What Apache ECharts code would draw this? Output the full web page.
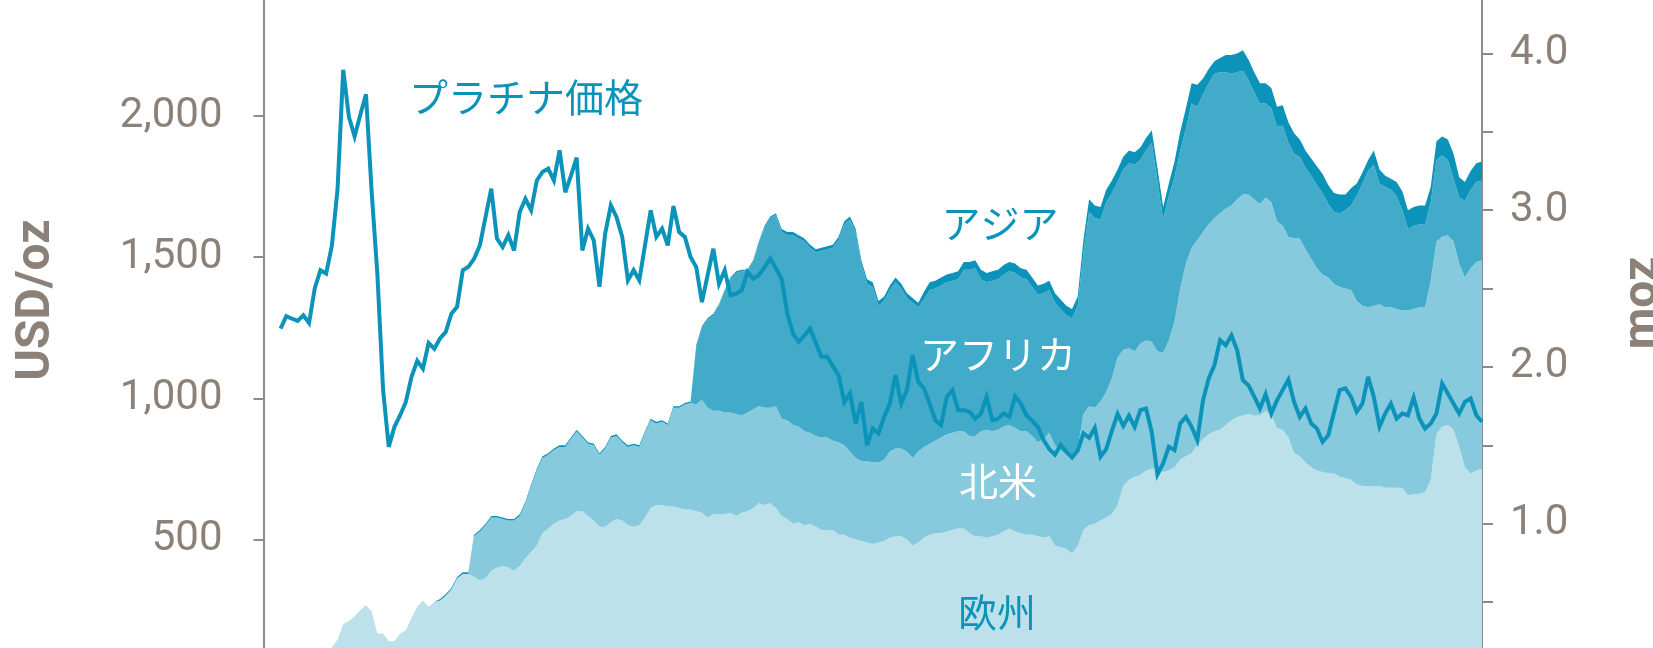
<!DOCTYPE html>
<html>
<head>
<meta charset="UTF-8">
<title>プラチナ価格とETF保有量</title>
<script src="https://cdn.jsdelivr.net/npm/echarts@6/dist/echarts.min.js"></script>
<style>
  html, body { margin: 0; padding: 0; background: #fff; }
  #main { width: 1653px; height: 648px; }
</style>
</head>
<body>
<div id="main"></div>
<script type="text/javascript">
// monthly points, Dec 2006 .. Oct 2024
var months = [];
for (var k = 0; k < 215; k++) {
    var y = 2006 + Math.floor((11 + k) / 12);
    var m = (11 + k) % 12 + 1;
    months.push(y + '-' + (m < 10 ? '0' + m : m));
}

// platinum price, USD/oz
var price = [
    null, null, null, 1247, 1291, 1282, 1274, 1294, 1267, 1389,
    1454, 1442, 1540, 1740, 2164, 1997, 1928, 2005, 2077, 1730,
    1440, 1030, 828, 899, 940, 987, 1076, 1133, 1105, 1196,
    1176, 1212, 1235, 1300, 1324, 1454, 1466, 1495, 1542, 1643,
    1743, 1566, 1536, 1578, 1524, 1660, 1707, 1666, 1772, 1802,
    1814, 1772, 1879, 1730, 1789, 1853, 1524, 1601, 1560, 1395,
    1583, 1684, 1642, 1572, 1418, 1454, 1418, 1542, 1666, 1572,
    1601, 1542, 1681, 1589, 1572, 1501, 1465, 1341, 1436, 1530,
    1406, 1454, 1365, 1371, 1383, 1448, 1424, 1436, 1465, 1495,
    1460, 1424, 1300, 1229, 1200, 1223, 1247, 1196, 1147, 1147,
    1114, 1082, 987, 1017, 911, 987, 834, 893, 875, 934,
    981, 1082, 981, 1029, 1153, 1058, 1035, 981, 922, 905,
    1005, 1029, 958, 958, 952, 928, 946, 1005, 922, 928,
    946, 934, 1007, 981, 940, 920, 899, 852, 820, 800,
    835, 811, 790, 815, 876, 860, 895, 793, 820, 885,
    945, 902, 938, 899, 958, 964, 880, 730, 769, 828,
    816, 911, 934, 899, 852, 993, 1070, 1117, 1206, 1188,
    1223, 1170, 1064, 1046, 1006, 964, 1015, 946, 993, 1030,
    1066, 987, 934, 964, 911, 893, 846, 869, 950, 1029,
    1035, 1005, 952, 981, 1076, 1005, 899, 946, 981, 928,
    946, 940, 1003, 928, 893, 911, 946, 1052, 1017, 981,
    946, 987, 999, 940, 917
];

// ETF holdings by region, moz
var europe = [
    0, 0, 0, 0, 0, 0, 0, 0, 0, 0,
    0, 0, 0.21, 0.26, 0.36, 0.38, 0.41, 0.45, 0.48, 0.44,
    0.30, 0.30, 0.25, 0.25, 0.30, 0.32, 0.40, 0.47, 0.51, 0.47,
    0.50, 0.51, 0.54, 0.58, 0.65, 0.68, 0.68, 0.66, 0.64, 0.65,
    0.70, 0.72, 0.73, 0.72, 0.70, 0.73, 0.78, 0.82, 0.86, 0.94,
    0.97, 1.00, 1.02, 1.03, 1.05, 1.08, 1.08, 1.05, 1.02, 0.98,
    0.98, 1.01, 1.03, 1.02, 0.99, 0.98, 0.99, 1.04, 1.10, 1.12,
    1.12, 1.11, 1.11, 1.10, 1.09, 1.09, 1.08, 1.07, 1.04, 1.06,
    1.06, 1.06, 1.07, 1.05, 1.07, 1.08, 1.10, 1.13, 1.12, 1.13,
    1.10, 1.05, 1.03, 1.00, 1.01, 0.99, 1.00, 0.98, 0.96, 0.96,
    0.96, 0.93, 0.93, 0.91, 0.90, 0.89, 0.88, 0.87, 0.88, 0.89,
    0.91, 0.92, 0.92, 0.90, 0.86, 0.88, 0.91, 0.93, 0.94, 0.94,
    0.95, 0.96, 0.97, 0.97, 0.94, 0.92, 0.92, 0.91, 0.92, 0.93,
    0.95, 0.97, 0.95, 0.94, 0.93, 0.93, 0.92, 0.91, 0.92, 0.86,
    0.85, 0.84, 0.81, 0.86, 0.96, 0.99, 1.00, 1.02, 1.04, 1.06,
    1.12, 1.24, 1.28, 1.30, 1.31, 1.34, 1.35, 1.35, 1.33, 1.34,
    1.36, 1.41, 1.43, 1.45, 1.50, 1.54, 1.57, 1.59, 1.60, 1.63,
    1.66, 1.68, 1.69, 1.70, 1.69, 1.69, 1.72, 1.69, 1.61, 1.60,
    1.55, 1.45, 1.43, 1.39, 1.36, 1.34, 1.33, 1.32, 1.32, 1.30,
    1.29, 1.28, 1.25, 1.24, 1.24, 1.24, 1.24, 1.23, 1.23, 1.23,
    1.23, 1.18, 1.19, 1.19, 1.20, 1.28, 1.57, 1.62, 1.63, 1.60,
    1.49, 1.36, 1.32, 1.34, 1.35
];

var northAmerica = [
    0, 0, 0, 0, 0, 0, 0, 0, 0, 0,
    0, 0, 0, 0, 0, 0, 0, 0, 0, 0,
    0, 0, 0, 0, 0, 0, 0, 0, 0, 0,
    0, 0, 0, 0, 0, 0, 0, 0.26, 0.31, 0.34,
    0.34, 0.32, 0.30, 0.30, 0.32, 0.32, 0.35, 0.42, 0.48, 0.48,
    0.47, 0.47, 0.47, 0.46, 0.49, 0.51, 0.47, 0.46, 0.48, 0.46,
    0.50, 0.54, 0.53, 0.50, 0.50, 0.52, 0.50, 0.54, 0.56, 0.52,
    0.53, 0.52, 0.63, 0.64, 0.67, 0.68, 0.68, 0.72, 0.70, 0.66,
    0.66, 0.65, 0.64, 0.65, 0.62, 0.63, 0.63, 0.62, 0.62, 0.61,
    0.65, 0.62, 0.63, 0.63, 0.61, 0.60, 0.58, 0.58, 0.59, 0.59,
    0.57, 0.59, 0.57, 0.55, 0.52, 0.51, 0.52, 0.52, 0.51, 0.52,
    0.55, 0.56, 0.56, 0.56, 0.56, 0.58, 0.58, 0.58, 0.59, 0.61,
    0.62, 0.62, 0.62, 0.62, 0.62, 0.64, 0.67, 0.69, 0.67, 0.67,
    0.67, 0.66, 0.66, 0.65, 0.66, 0.63, 0.60, 0.63, 0.66, 0.64,
    0.62, 0.60, 0.62, 0.62, 0.74, 0.76, 0.74, 0.76, 0.80, 0.87,
    0.94, 0.87, 0.84, 0.80, 0.84, 0.83, 0.81, 0.75, 0.76, 0.83,
    0.93, 1.09, 1.23, 1.31, 1.31, 1.32, 1.34, 1.36, 1.38, 1.38,
    1.37, 1.39, 1.41, 1.40, 1.38, 1.35, 1.36, 1.36, 1.32, 1.30,
    1.28, 1.37, 1.39, 1.36, 1.33, 1.29, 1.26, 1.25, 1.21, 1.21,
    1.21, 1.21, 1.17, 1.15, 1.14, 1.15, 1.16, 1.15, 1.15, 1.14,
    1.13, 1.18, 1.18, 1.19, 1.18, 1.27, 1.23, 1.21, 1.21, 1.20,
    1.17, 1.21, 1.31, 1.33, 1.33
];

var africa = [
    0, 0, 0, 0, 0, 0, 0, 0, 0, 0,
    0, 0, 0, 0, 0, 0, 0, 0, 0, 0,
    0, 0, 0, 0, 0, 0, 0, 0, 0, 0,
    0, 0, 0, 0, 0, 0, 0, 0, 0, 0,
    0, 0, 0, 0, 0, 0, 0, 0, 0, 0,
    0, 0, 0, 0, 0, 0, 0, 0, 0, 0,
    0, 0, 0, 0, 0, 0, 0, 0, 0, 0,
    0, 0, 0, 0, 0, 0, 0.37, 0.46, 0.56, 0.61,
    0.67, 0.77, 0.85, 0.90, 0.92, 0.90, 0.94, 1.04, 1.15, 1.21,
    1.22, 1.19, 1.18, 1.21, 1.20, 1.21, 1.18, 1.17, 1.19, 1.20,
    1.23, 1.29, 1.41, 1.48, 1.44, 1.26, 1.13, 1.12, 1.00, 1.01,
    1.03, 1.06, 1.02, 0.98, 0.99, 0.92, 0.94, 0.98, 0.97, 0.97,
    0.97, 0.97, 0.97, 1.03, 1.06, 1.07, 0.97, 0.94, 0.96, 0.96,
    0.97, 0.98, 0.99, 0.98, 0.97, 0.95, 0.94, 0.93, 0.91, 0.91,
    0.90, 0.89, 0.88, 0.91, 1.03, 1.24, 1.21, 1.16, 1.21, 1.18,
    1.12, 1.15, 1.18, 1.19, 1.17, 1.21, 1.27, 1.09, 0.85, 0.92,
    0.92, 0.88, 0.86, 0.92, 0.85, 0.88, 0.90, 0.92, 0.90, 0.87,
    0.84, 0.81, 0.79, 0.73, 0.68, 0.64, 0.60, 0.60, 0.60, 0.64,
    0.60, 0.54, 0.52, 0.52, 0.53, 0.53, 0.52, 0.47, 0.46, 0.47,
    0.50, 0.54, 0.67, 0.78, 0.87, 0.90, 0.77, 0.77, 0.75, 0.72,
    0.64, 0.52, 0.53, 0.53, 0.53, 0.50, 0.52, 0.52, 0.48, 0.40,
    0.42, 0.49, 0.50, 0.51, 0.51
];

var asia = [
    0, 0, 0, 0, 0, 0, 0, 0, 0, 0,
    0, 0, 0, 0, 0, 0, 0, 0, 0, 0,
    0, 0, 0, 0, 0, 0, 0, 0, 0, 0,
    0, 0.01, 0.01, 0.01, 0.01, 0.01, 0.01, 0.01, 0.01, 0.01,
    0.01, 0.01, 0.01, 0.01, 0.01, 0.01, 0.01, 0.01, 0.01, 0.01,
    0.01, 0.01, 0.01, 0.01, 0.01, 0.01, 0.01, 0.01, 0.01, 0.01,
    0.01, 0.01, 0.01, 0.01, 0.01, 0.01, 0.01, 0.01, 0.01, 0.01,
    0.01, 0.01, 0.01, 0.01, 0.01, 0.01, 0.01, 0.01, 0.01, 0.01,
    0.01, 0.01, 0.01, 0.01, 0.01, 0.01, 0.01, 0.01, 0.01, 0.01,
    0.01, 0.02, 0.02, 0.02, 0.02, 0.02, 0.02, 0.02, 0.02, 0.02,
    0.02, 0.02, 0.02, 0.02, 0.02, 0.02, 0.03, 0.03, 0.03, 0.03,
    0.03, 0.03, 0.03, 0.03, 0.03, 0.03, 0.05, 0.05, 0.05, 0.05,
    0.05, 0.05, 0.05, 0.05, 0.05, 0.05, 0.06, 0.06, 0.06, 0.06,
    0.06, 0.06, 0.06, 0.06, 0.06, 0.06, 0.06, 0.06, 0.06, 0.06,
    0.06, 0.06, 0.06, 0.06, 0.08, 0.08, 0.08, 0.08, 0.08, 0.08,
    0.08, 0.08, 0.08, 0.08, 0.08, 0.08, 0.08, 0.08, 0.08, 0.08,
    0.10, 0.12, 0.13, 0.13, 0.14, 0.10, 0.09, 0.08, 0.09, 0.11,
    0.12, 0.12, 0.13, 0.13, 0.13, 0.13, 0.13, 0.13, 0.13, 0.13,
    0.13, 0.13, 0.11, 0.11, 0.11, 0.12, 0.12, 0.12, 0.12, 0.12,
    0.10, 0.11, 0.08, 0.07, 0.07, 0.09, 0.09, 0.07, 0.07, 0.09,
    0.12, 0.12, 0.12, 0.12, 0.12, 0.10, 0.12, 0.12, 0.13, 0.16,
    0.13, 0.12, 0.12, 0.12, 0.12
];

var priceTicks = { min: 0, max: 2500, step: 500 };
var mozTicks = { min: 0, max: 4.5, step: 0.5 };

var teal = '#0b93ba';
var grey = '#8b8178';
var axisGrey = '#8c8c8c';

function band(name, data, color) {
    return {
        name: name,
        type: 'line',
        yAxisIndex: 1,
        stack: 'etf',
        data: data,
        symbol: 'none',
        lineStyle: { width: 0 },
        areaStyle: { color: color, opacity: 1 },
        z: 2
    };
}

var myChart = echarts.init(document.getElementById('main'));
myChart.setOption({
    animation: false,
    grid: {
        left: 263.5, right: 171, top: -25, height: 705.5,
        containLabel: false, outerBoundsMode: 'none'
    },
    xAxis: { type: 'category', data: months, boundaryGap: false, show: false },
    yAxis: [
        {
            type: 'value', position: 'left',
            min: priceTicks.min, max: priceTicks.max, interval: priceTicks.step,
            splitLine: { show: false },
            axisLine: { show: true, lineStyle: { color: axisGrey, width: 2 } },
            axisTick: { show: true, length: 10, lineStyle: { color: axisGrey, width: 2 } },
            axisLabel: {
                margin: 41, color: grey, fontFamily: 'Roboto', fontSize: 42,
                formatter: function (v) { return v.toLocaleString('en-US'); }
            }
        },
        {
            type: 'value', position: 'right',
            min: mozTicks.min, max: mozTicks.max, interval: mozTicks.step,
            splitLine: { show: false },
            axisLine: { show: true, lineStyle: { color: axisGrey, width: 2 } },
            axisTick: { show: true, length: 11, lineStyle: { color: axisGrey, width: 2 } },
            axisLabel: {
                margin: 28, color: grey, fontFamily: 'Roboto', fontSize: 42,
                formatter: function (v) { return v % 1 === 0 ? v.toFixed(1) : ''; }
            }
        }
    ],
    series: [
        band('欧州', europe, '#bde1ea'),
        band('北米', northAmerica, '#87cadd'),
        band('アフリカ', africa, '#42abc9'),
        band('アジア', asia, teal),
        {
            name: 'プラチナ価格',
            type: 'line',
            yAxisIndex: 0,
            data: price,
            symbol: 'none',
            lineStyle: { color: teal, width: 4, join: 'miter', miterLimit: 4 },
            z: 5
        }
    ],
    graphic: [
        { type: 'text', x: 526, y: 97, z: 10, style: { text: 'プラチナ価格', fill: teal, fontSize: 39, fontFamily: '"Noto Sans CJK JP"', align: 'center', verticalAlign: 'middle' } },
        { type: 'text', x: 1000, y: 223, z: 10, style: { text: 'アジア', fill: teal, fontSize: 39, fontFamily: '"Noto Sans CJK JP"', align: 'center', verticalAlign: 'middle' } },
        { type: 'text', x: 998, y: 354, z: 10, style: { text: 'アフリカ', fill: '#ffffff', fontSize: 39, fontFamily: '"Noto Sans CJK JP"', align: 'center', verticalAlign: 'middle' } },
        { type: 'text', x: 998, y: 481, z: 10, style: { text: '北米', fill: '#ffffff', fontSize: 39, fontFamily: '"Noto Sans CJK JP"', align: 'center', verticalAlign: 'middle' } },
        { type: 'text', x: 997, y: 612, z: 10, style: { text: '欧州', fill: teal, fontSize: 39, fontFamily: '"Noto Sans CJK JP"', align: 'center', verticalAlign: 'middle' } },
        { type: 'text', x: 37, y: 300, rotation: Math.PI / 2, z: 10, style: { text: 'USD/oz', fill: grey, fontSize: 48, fontWeight: 'bold', fontFamily: 'Roboto', align: 'center', verticalAlign: 'middle' } },
        { type: 'text', x: 1644, y: 303, rotation: Math.PI / 2, z: 10, style: { text: 'moz', fill: grey, fontSize: 48, fontWeight: 'bold', fontFamily: 'Roboto', align: 'center', verticalAlign: 'middle' } }
    ]
});
</script>
</body>
</html>
